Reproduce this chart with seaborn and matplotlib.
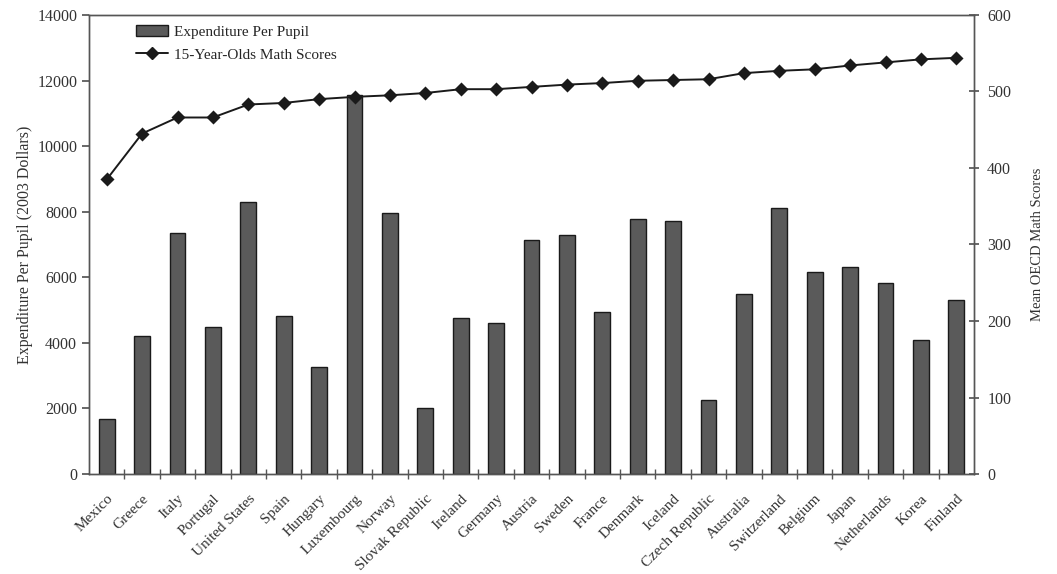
import numpy as np
import matplotlib.pyplot as plt
import seaborn as sns
from matplotlib.patches import Patch
from matplotlib.lines import Line2D
from matplotlib.ticker import FixedLocator
from matplotlib.transforms import ScaledTranslation

# Data
countries = ["Mexico", "Greece", "Italy", "Portugal", "United States", "Spain",
             "Hungary", "Luxembourg", "Norway", "Slovak Republic", "Ireland",
             "Germany", "Austria", "Sweden", "France", "Denmark", "Iceland",
             "Czech Republic", "Australia", "Switzerland", "Belgium", "Japan",
             "Netherlands", "Korea", "Finland"]
expenditure = [1670, 4220, 7360, 4490, 8300, 4830, 3270, 11550, 7970, 2000,
               4750, 4620, 7140, 7280, 4930, 7790, 7730, 2260, 5480, 8100,
               6160, 6320, 5830, 4080, 5310]
math_scores = [385, 445, 466, 466, 483, 485, 490, 493, 495, 498, 503, 503, 506,
               509, 511, 514, 515, 516, 524, 527, 529, 534, 538, 542, 544]

sns.set_theme(style="white")
plt.rcParams['font.family'] = ['Liberation Serif', 'DejaVu Serif']

axis_col = "#555555"
text_col = "#333333"

fig = plt.figure(figsize=(10.57, 5.74), dpi=100)
ax = fig.add_axes([0.0842, 0.1742, 0.8373, 0.7997])

sns.barplot(x=countries, y=expenditure, ax=ax, color="#5a5a5a", saturation=1,
            width=0.45, edgecolor="#1a1a1a", linewidth=1.0)
ax.set_ylim(0, 14000)
ax.set_yticks(np.arange(0, 14001, 2000))
ax.set_xlim(-0.5, len(countries) - 0.5)
ax.set_ylabel("Expenditure Per Pupil (2003 Dollars)", fontsize=11.5,
              color=text_col, labelpad=3)
ax.set_xlabel("")

ax2 = ax.twinx()
sns.pointplot(x=countries, y=math_scores, ax=ax2, color="#1a1a1a",
              markers="D", markersize=6, linewidth=1.4, errorbar=None)
ax2.set_ylim(0, 600)
ax2.set_yticks(np.arange(0, 601, 100))
ax2.set_xlim(-0.5, len(countries) - 0.5)
ax2.set_ylabel("Mean OECD Math Scores", fontsize=10.5, color=text_col, labelpad=14)

# category labels centred under bars, tick marks at the boundaries
ax.set_xticks(range(len(countries)))
ax.set_xticklabels(countries, rotation=45, ha="right", rotation_mode="anchor",
                   fontsize=11, color=text_col)
shift = ScaledTranslation(-8 / 72, 0, fig.dpi_scale_trans)
for lbl in ax.get_xticklabels():
    lbl.set_transform(lbl.get_transform() + shift)
ax.xaxis.set_minor_locator(FixedLocator(np.arange(0.5, len(countries) - 0.5, 1)))
ax.tick_params(axis="x", which="major", length=0, pad=13)
ax.tick_params(axis="x", which="minor", length=7, direction="inout",
               color=axis_col, width=1, bottom=True)
ax.tick_params(axis="y", length=5, direction="out", color=axis_col,
               labelsize=11.5, labelcolor=text_col, left=True)
ax2.tick_params(axis="y", length=7, direction="inout", color=axis_col,
                labelsize=11.5, labelcolor=text_col, right=True, pad=6)

for a in (ax, ax2):
    for s in a.spines.values():
        s.set_color(axis_col)
        s.set_linewidth(1.0)

handles = [Patch(facecolor="#5a5a5a", edgecolor="#1a1a1a"),
           Line2D([0], [0], color="#1a1a1a", marker="D", markersize=6, linewidth=1.4)]
ax2.legend(handles, ["Expenditure Per Pupil", "15-Year-Olds Math Scores"],
           loc="upper left", bbox_to_anchor=(0.043, 0.998), frameon=False,
           fontsize=11, handlelength=2.1, handleheight=0.7, handletextpad=0.4,
           labelspacing=0.6, borderaxespad=0.2)

fig.savefig("out.png", dpi=100)
